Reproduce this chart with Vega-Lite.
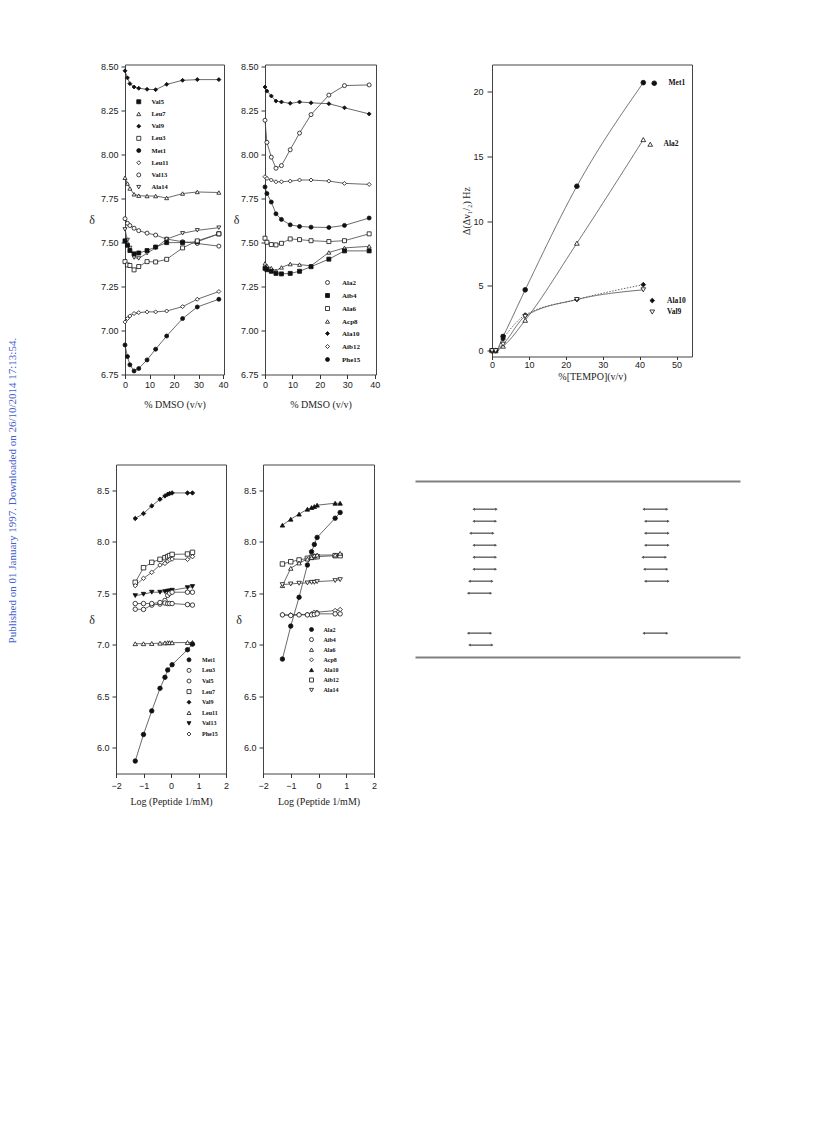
{
"$schema": "https://vega.github.io/schema/vega-lite/v6.json",
"background": "white",
"padding": {"left": 6, "top": 61.5, "right": 5, "bottom": 5},
"title": {"text": "Published on 01 January 1997. Downloaded on 26/10/2014 17:13:54.", "orient": "left", "anchor": "middle", "font": "Liberation Serif", "fontSize": 11, "fontWeight": "normal", "color": "#4060cc", "offset": 62.5, "dx": -56},
"spacing": 53,
"resolve": {"scale": {"shape": "independent", "fill": "independent", "stroke": "independent", "strokeDash": "independent"}},
"vconcat": [
{"hconcat": [
 {"hconcat": [
  {"width": 3.5, "height": 1, "view": {"stroke": "transparent"}, "data": {"values": []}, "mark": "point"},
  {"width": 99, "height": 310,
   "data": {"values": [
{"s":"Val9","x":0,"y":8.477},{"s":"Val9","x":1,"y":8.437},{"s":"Val9","x":2,"y":8.404},{"s":"Val9","x":3.7,"y":8.385},{"s":"Val9","x":5.6,"y":8.378},{"s":"Val9","x":9,"y":8.372},{"s":"Val9","x":12.5,"y":8.37},{"s":"Val9","x":17,"y":8.40},{"s":"Val9","x":23.5,"y":8.423},{"s":"Val9","x":29.5,"y":8.427},{"s":"Val9","x":38.3,"y":8.427},
{"s":"Leu7","x":0,"y":7.869},{"s":"Leu7","x":1,"y":7.836},{"s":"Leu7","x":2,"y":7.808},{"s":"Leu7","x":3.7,"y":7.775},{"s":"Leu7","x":5.6,"y":7.767},{"s":"Leu7","x":9,"y":7.765},{"s":"Leu7","x":12.5,"y":7.765},{"s":"Leu7","x":17,"y":7.754},{"s":"Leu7","x":23.5,"y":7.779},{"s":"Leu7","x":29.5,"y":7.788},{"s":"Leu7","x":38.3,"y":7.785},
{"s":"Val13","x":0,"y":7.636},{"s":"Val13","x":1,"y":7.61},{"s":"Val13","x":2,"y":7.597},{"s":"Val13","x":3.7,"y":7.582},{"s":"Val13","x":5.6,"y":7.568},{"s":"Val13","x":9,"y":7.554},{"s":"Val13","x":12.5,"y":7.543},{"s":"Val13","x":17,"y":7.52},{"s":"Val13","x":23.5,"y":7.505},{"s":"Val13","x":29.5,"y":7.495},{"s":"Val13","x":38.3,"y":7.48},
{"s":"Ala14","x":0,"y":7.575},{"s":"Ala14","x":1,"y":7.515},{"s":"Ala14","x":2,"y":7.47},{"s":"Ala14","x":3.7,"y":7.415},{"s":"Ala14","x":5.6,"y":7.41},{"s":"Ala14","x":9,"y":7.44},{"s":"Ala14","x":12.5,"y":7.47},{"s":"Ala14","x":17,"y":7.52},{"s":"Ala14","x":23.5,"y":7.553},{"s":"Ala14","x":29.5,"y":7.57},{"s":"Ala14","x":38.3,"y":7.585},
{"s":"Val5","x":0,"y":7.51},{"s":"Val5","x":1,"y":7.485},{"s":"Val5","x":2,"y":7.455},{"s":"Val5","x":3.7,"y":7.436},{"s":"Val5","x":5.6,"y":7.441},{"s":"Val5","x":9,"y":7.455},{"s":"Val5","x":12.5,"y":7.475},{"s":"Val5","x":17,"y":7.50},{"s":"Val5","x":23.5,"y":7.50},{"s":"Val5","x":29.5,"y":7.505},{"s":"Val5","x":38.3,"y":7.55},
{"s":"Leu3","x":0,"y":7.392},{"s":"Leu3","x":1,"y":7.373},{"s":"Leu3","x":2,"y":7.37},{"s":"Leu3","x":3.7,"y":7.345},{"s":"Leu3","x":5.6,"y":7.364},{"s":"Leu3","x":9,"y":7.392},{"s":"Leu3","x":12.5,"y":7.39},{"s":"Leu3","x":17,"y":7.405},{"s":"Leu3","x":23.5,"y":7.47},{"s":"Leu3","x":29.5,"y":7.51},{"s":"Leu3","x":38.3,"y":7.55},
{"s":"Leu11","x":0,"y":7.049},{"s":"Leu11","x":1,"y":7.068},{"s":"Leu11","x":2,"y":7.083},{"s":"Leu11","x":3.7,"y":7.097},{"s":"Leu11","x":5.6,"y":7.102},{"s":"Leu11","x":9,"y":7.106},{"s":"Leu11","x":12.5,"y":7.106},{"s":"Leu11","x":17,"y":7.111},{"s":"Leu11","x":23.5,"y":7.136},{"s":"Leu11","x":29.5,"y":7.178},{"s":"Leu11","x":38.3,"y":7.222},
{"s":"Met1","x":0,"y":6.918},{"s":"Met1","x":1,"y":6.852},{"s":"Met1","x":2,"y":6.805},{"s":"Met1","x":3.7,"y":6.77},{"s":"Met1","x":5.6,"y":6.784},{"s":"Met1","x":9,"y":6.833},{"s":"Met1","x":12.5,"y":6.894},{"s":"Met1","x":17,"y":6.969},{"s":"Met1","x":23.5,"y":7.068},{"s":"Met1","x":29.5,"y":7.134},{"s":"Met1","x":38.3,"y":7.178}
   ]},
   "encoding": {
    "x": {"field": "x", "type": "quantitative", "scale": {"domain": [0, 40.4], "nice": false, "zero": false}, "axis": {"values": [0,10,20,30,40], "title": "% DMSO (v/v)", "labelPadding": 2, "titlePadding": 10}},
    "y": {"field": "y", "type": "quantitative", "scale": {"domain": [6.75, 8.513], "nice": false, "zero": false}, "axis": {"values": [6.75,7,7.25,7.5,7.75,8,8.25,8.5], "format": ".2f", "title": "δ", "titleAngle": 0, "titleAlign": "right", "titleBaseline": "middle", "titleFontSize": 12, "titlePadding": 6}}
   },
   "layer": [
    {"mark": {"type": "line", "stroke": "#444", "strokeWidth": 0.8}, "encoding": {"detail": {"field": "s", "type": "nominal"}}},
    {"mark": {"type": "point", "strokeWidth": 0.8, "opacity": 1, "size": 16},
     "encoding": {
      "shape": {"field": "s", "type": "nominal", "scale": {"domain": ["Val5","Leu7","Val9","Leu3","Met1","Leu11","Val13","Ala14"], "range": ["square","triangle-up","diamond","square","circle","diamond","circle","triangle-down"]}, "legend": {"orient": "none", "legendX": 10.5, "legendY": 34, "title": null, "labelFontSize": 6.5, "symbolSize": 16, "rowPadding": 4.2, "labelOffset": 9.5}},
      "fill": {"field": "s", "type": "nominal", "scale": {"domain": ["Val5","Leu7","Val9","Leu3","Met1","Leu11","Val13","Ala14"], "range": ["#111","white","#111","white","#111","white","white","white"]}, "legend": {"orient": "none", "legendX": 10.5, "legendY": 34, "title": null, "labelFontSize": 6.5, "symbolSize": 16, "rowPadding": 4.2, "labelOffset": 9.5}},
      "stroke": {"field": "s", "type": "nominal", "scale": {"domain": ["Val5","Leu7","Val9","Leu3","Met1","Leu11","Val13","Ala14"], "range": ["#111","#111","#111","#111","#111","#111","#111","#111"]}, "legend": {"orient": "none", "legendX": 10.5, "legendY": 34, "title": null, "labelFontSize": 6.5, "symbolSize": 16, "rowPadding": 4.2, "labelOffset": 9.5}}
     }}
   ]
  },
  {"width": 111, "height": 310,
   "data": {"values": [
{"s":"Ala10","x":0,"y":8.385},{"s":"Ala10","x":0.7,"y":8.362},{"s":"Ala10","x":2.3,"y":8.334},{"s":"Ala10","x":4,"y":8.305},{"s":"Ala10","x":6,"y":8.30},{"s":"Ala10","x":9.2,"y":8.292},{"s":"Ala10","x":12.6,"y":8.30},{"s":"Ala10","x":16.8,"y":8.295},{"s":"Ala10","x":23.3,"y":8.29},{"s":"Ala10","x":29,"y":8.267},{"s":"Ala10","x":38,"y":8.232},
{"s":"Ala2","x":0,"y":8.196},{"s":"Ala2","x":0.7,"y":8.07},{"s":"Ala2","x":2.3,"y":7.986},{"s":"Ala2","x":4,"y":7.923},{"s":"Ala2","x":6,"y":7.938},{"s":"Ala2","x":9.2,"y":8.028},{"s":"Ala2","x":12.6,"y":8.123},{"s":"Ala2","x":16.8,"y":8.228},{"s":"Ala2","x":23.3,"y":8.339},{"s":"Ala2","x":29,"y":8.393},{"s":"Ala2","x":38,"y":8.397},
{"s":"Aib12","x":0,"y":7.875},{"s":"Aib12","x":0.7,"y":7.865},{"s":"Aib12","x":2.3,"y":7.856},{"s":"Aib12","x":4,"y":7.846},{"s":"Aib12","x":6,"y":7.846},{"s":"Aib12","x":9.2,"y":7.85},{"s":"Aib12","x":12.6,"y":7.856},{"s":"Aib12","x":16.8,"y":7.856},{"s":"Aib12","x":23.3,"y":7.85},{"s":"Aib12","x":29,"y":7.837},{"s":"Aib12","x":38,"y":7.831},
{"s":"Phe15","x":0,"y":7.817},{"s":"Phe15","x":0.7,"y":7.779},{"s":"Phe15","x":2.3,"y":7.731},{"s":"Phe15","x":4,"y":7.664},{"s":"Phe15","x":6,"y":7.632},{"s":"Phe15","x":9.2,"y":7.601},{"s":"Phe15","x":12.6,"y":7.592},{"s":"Phe15","x":16.8,"y":7.588},{"s":"Phe15","x":23.3,"y":7.586},{"s":"Phe15","x":29,"y":7.598},{"s":"Phe15","x":38,"y":7.64},
{"s":"Ala6","x":0,"y":7.525},{"s":"Ala6","x":0.7,"y":7.502},{"s":"Ala6","x":2.3,"y":7.489},{"s":"Ala6","x":4,"y":7.487},{"s":"Ala6","x":6,"y":7.496},{"s":"Ala6","x":9.2,"y":7.521},{"s":"Ala6","x":12.6,"y":7.517},{"s":"Ala6","x":16.8,"y":7.511},{"s":"Ala6","x":23.3,"y":7.506},{"s":"Ala6","x":29,"y":7.511},{"s":"Ala6","x":38,"y":7.55},
{"s":"Acp8","x":0,"y":7.382},{"s":"Acp8","x":0.7,"y":7.368},{"s":"Acp8","x":2.3,"y":7.355},{"s":"Acp8","x":4,"y":7.34},{"s":"Acp8","x":6,"y":7.359},{"s":"Acp8","x":9.2,"y":7.378},{"s":"Acp8","x":12.6,"y":7.375},{"s":"Acp8","x":16.8,"y":7.368},{"s":"Acp8","x":23.3,"y":7.444},{"s":"Acp8","x":29,"y":7.47},{"s":"Acp8","x":38,"y":7.479},
{"s":"Aib4","x":0,"y":7.354},{"s":"Aib4","x":0.7,"y":7.346},{"s":"Aib4","x":2.3,"y":7.337},{"s":"Aib4","x":4,"y":7.325},{"s":"Aib4","x":6,"y":7.322},{"s":"Aib4","x":9.2,"y":7.325},{"s":"Aib4","x":12.6,"y":7.337},{"s":"Aib4","x":16.8,"y":7.363},{"s":"Aib4","x":23.3,"y":7.406},{"s":"Aib4","x":29,"y":7.453},{"s":"Aib4","x":38,"y":7.453}
   ]},
   "encoding": {
    "x": {"field": "x", "type": "quantitative", "scale": {"domain": [0, 40.5], "nice": false, "zero": false}, "axis": {"values": [0,10,20,30,40], "title": "% DMSO (v/v)", "labelPadding": 2, "titlePadding": 10}},
    "y": {"field": "y", "type": "quantitative", "scale": {"domain": [6.75, 8.513], "nice": false, "zero": false}, "axis": {"values": [6.75,7,7.25,7.5,7.75,8,8.25,8.5], "format": ".2f", "title": "δ", "titleAngle": 0, "titleAlign": "right", "titleBaseline": "middle", "titleFontSize": 12, "titlePadding": 1.5}}
   },
   "layer": [
    {"mark": {"type": "line", "stroke": "#444", "strokeWidth": 0.8}, "encoding": {"detail": {"field": "s", "type": "nominal"}}},
    {"mark": {"type": "point", "strokeWidth": 0.8, "opacity": 1, "size": 16},
     "encoding": {
      "shape": {"field": "s", "type": "nominal", "scale": {"domain": ["Ala2","Aib4","Ala6","Acp8","Ala10","Aib12","Phe15"], "range": ["circle","square","square","triangle-up","diamond","diamond","circle"]}, "legend": {"orient": "none", "legendX": 59, "legendY": 214.5, "title": null, "labelFontSize": 7, "symbolSize": 16, "rowPadding": 4, "labelOffset": 11}},
      "fill": {"field": "s", "type": "nominal", "scale": {"domain": ["Ala2","Aib4","Ala6","Acp8","Ala10","Aib12","Phe15"], "range": ["white","#111","white","white","#111","white","#111"]}, "legend": {"orient": "none", "legendX": 59, "legendY": 214.5, "title": null, "labelFontSize": 7, "symbolSize": 16, "rowPadding": 4, "labelOffset": 11}},
      "stroke": {"field": "s", "type": "nominal", "scale": {"domain": ["Ala2","Aib4","Ala6","Acp8","Ala10","Aib12","Phe15"], "range": ["#111","#111","#111","#111","#111","#111","#111"]}, "legend": {"orient": "none", "legendX": 59, "legendY": 214.5, "title": null, "labelFontSize": 7, "symbolSize": 16, "rowPadding": 4, "labelOffset": 11}}
     }}
   ]
  }
 ], "spacing": 3, "resolve": {"scale": {"shape": "independent", "fill": "independent", "stroke": "independent", "strokeDash": "independent"}}},
 {"width": 200, "height": 292,
  "data": {"values": [
{"s":"Met1","x":0,"y":0},{"s":"Met1","x":1,"y":0},{"s":"Met1","x":3,"y":1.1},{"s":"Met1","x":9,"y":4.7},{"s":"Met1","x":23,"y":12.7},{"s":"Met1","x":41,"y":20.7},
{"s":"Ala2","x":0,"y":0},{"s":"Ala2","x":1,"y":0},{"s":"Ala2","x":3,"y":0.35},{"s":"Ala2","x":9,"y":2.35},{"s":"Ala2","x":23,"y":8.3},{"s":"Ala2","x":41,"y":16.3},
{"s":"Ala10","x":0,"y":0},{"s":"Ala10","x":1,"y":0},{"s":"Ala10","x":3,"y":0.9},{"s":"Ala10","x":9,"y":2.75},{"s":"Ala10","x":23,"y":3.95},{"s":"Ala10","x":41,"y":5.1},
{"s":"Val9","x":0,"y":0},{"s":"Val9","x":1,"y":0},{"s":"Val9","x":3,"y":0.5},{"s":"Val9","x":9,"y":2.65},{"s":"Val9","x":23,"y":3.95},{"s":"Val9","x":41,"y":4.7}
  ]},
  "encoding": {
   "x": {"field": "x", "type": "quantitative", "scale": {"domain": [0, 54.2], "nice": false, "zero": false}, "axis": {"values": [0,10,20,30,40,50], "title": "%[TEMPO](v/v)", "tickSize": 3, "labelPadding": 1, "titlePadding": 2}},
   "y": {"field": "y", "type": "quantitative", "scale": {"domain": [-0.45, 22.1], "nice": false, "zero": false}, "axis": {"values": [0,5,10,15,20], "title": "Δ(Δν₁/₂) Hz", "tickSize": 5, "labelPadding": 4, "titlePadding": 1}}
  },
  "resolve": {"scale": {"shape": "independent", "fill": "independent", "stroke": "independent"}},
  "layer": [
   {"mark": {"type": "line", "interpolate": "monotone", "stroke": "#555", "strokeWidth": 0.9}, "encoding": {"detail": {"field": "s", "type": "nominal"}, "strokeDash": {"field": "s", "type": "nominal", "scale": {"domain": ["Met1","Ala2","Ala10","Val9"], "range": [[1,0],[1,0],[1.5,1.5],[1,0]]}, "legend": null}}},
   {"transform": [{"filter": {"field": "s", "equal": "Met1"}}],
    "mark": {"type": "point", "strokeWidth": 0.8, "opacity": 1, "size": 22},
    "encoding": {
     "shape": {"field": "s", "type": "nominal", "scale": {"domain": ["Met1"], "range": ["circle"]}, "legend": {"orient": "none", "legendX": 158.5, "legendY": 15, "title": null, "labelFontSize": 7.5, "symbolSize": 22, "labelOffset": 10.5}},
     "fill": {"field": "s", "type": "nominal", "scale": {"domain": ["Met1"], "range": ["#111"]}, "legend": {"orient": "none", "legendX": 158.5, "legendY": 15, "title": null, "labelFontSize": 7.5, "symbolSize": 22, "labelOffset": 10.5}},
     "stroke": {"field": "s", "type": "nominal", "scale": {"domain": ["Met1"], "range": ["#111"]}, "legend": {"orient": "none", "legendX": 158.5, "legendY": 15, "title": null, "labelFontSize": 7.5, "symbolSize": 22, "labelOffset": 10.5}}
    }},
   {"transform": [{"filter": {"field": "s", "equal": "Ala2"}}],
    "mark": {"type": "point", "strokeWidth": 0.8, "opacity": 1, "size": 22},
    "encoding": {
     "shape": {"field": "s", "type": "nominal", "scale": {"domain": ["Ala2"], "range": ["triangle-up"]}, "legend": {"orient": "none", "legendX": 154.5, "legendY": 76, "title": null, "labelFontSize": 7.5, "symbolSize": 22, "labelOffset": 9.5}},
     "fill": {"field": "s", "type": "nominal", "scale": {"domain": ["Ala2"], "range": ["white"]}, "legend": {"orient": "none", "legendX": 154.5, "legendY": 76, "title": null, "labelFontSize": 7.5, "symbolSize": 22, "labelOffset": 9.5}},
     "stroke": {"field": "s", "type": "nominal", "scale": {"domain": ["Ala2"], "range": ["#111"]}, "legend": {"orient": "none", "legendX": 154.5, "legendY": 76, "title": null, "labelFontSize": 7.5, "symbolSize": 22, "labelOffset": 9.5}}
    }},
   {"transform": [{"filter": {"field": "s", "oneOf": ["Ala10", "Val9"]}}],
    "mark": {"type": "point", "strokeWidth": 0.8, "opacity": 1, "size": 22},
    "encoding": {
     "shape": {"field": "s", "type": "nominal", "scale": {"domain": ["Ala10","Val9"], "range": ["diamond","triangle-down"]}, "legend": {"orient": "none", "legendX": 156.5, "legendY": 232.3, "title": null, "labelFontSize": 7.5, "symbolSize": 22, "rowPadding": 2.5, "labelOffset": 11}},
     "fill": {"field": "s", "type": "nominal", "scale": {"domain": ["Ala10","Val9"], "range": ["#111","white"]}, "legend": {"orient": "none", "legendX": 156.5, "legendY": 232.3, "title": null, "labelFontSize": 7.5, "symbolSize": 22, "rowPadding": 2.5, "labelOffset": 11}},
     "stroke": {"field": "s", "type": "nominal", "scale": {"domain": ["Ala10","Val9"], "range": ["#111","#111"]}, "legend": {"orient": "none", "legendX": 156.5, "legendY": 232.3, "title": null, "labelFontSize": 7.5, "symbolSize": 22, "rowPadding": 2.5, "labelOffset": 11}}
    }}
  ]
 }
], "spacing": 80, "resolve": {"scale": {"shape": "independent", "fill": "independent", "stroke": "independent", "strokeDash": "independent"}}},
{"hconcat": [
 {"hconcat": [
  {"width": 1, "height": 1, "view": {"stroke": "transparent"}, "data": {"values": []}, "mark": "point"},
  {"width": 110, "height": 309,
   "data": {"values": [
{"s":"Val9","x":-1.3,"y":8.226},{"s":"Val9","x":-1.0,"y":8.274},{"s":"Val9","x":-0.7,"y":8.348},{"s":"Val9","x":-0.4,"y":8.413},{"s":"Val9","x":-0.22,"y":8.445},{"s":"Val9","x":-0.12,"y":8.461},{"s":"Val9","x":-0.05,"y":8.468},{"s":"Val9","x":0.04,"y":8.474},{"s":"Val9","x":0.6,"y":8.474},{"s":"Val9","x":0.78,"y":8.474},
{"s":"Leu7","x":-1.3,"y":7.606},{"s":"Leu7","x":-1.0,"y":7.748},{"s":"Leu7","x":-0.7,"y":7.80},{"s":"Leu7","x":-0.4,"y":7.829},{"s":"Leu7","x":-0.22,"y":7.845},{"s":"Leu7","x":-0.12,"y":7.855},{"s":"Leu7","x":-0.05,"y":7.865},{"s":"Leu7","x":0.04,"y":7.877},{"s":"Leu7","x":0.6,"y":7.881},{"s":"Leu7","x":0.78,"y":7.897},
{"s":"Phe15","x":-1.3,"y":7.574},{"s":"Phe15","x":-1.0,"y":7.645},{"s":"Phe15","x":-0.7,"y":7.703},{"s":"Phe15","x":-0.4,"y":7.774},{"s":"Phe15","x":-0.22,"y":7.79},{"s":"Phe15","x":-0.12,"y":7.813},{"s":"Phe15","x":-0.05,"y":7.825},{"s":"Phe15","x":0.04,"y":7.832},{"s":"Phe15","x":0.6,"y":7.829},{"s":"Phe15","x":0.78,"y":7.855},
{"s":"Val13","x":-1.3,"y":7.477},{"s":"Val13","x":-1.0,"y":7.49},{"s":"Val13","x":-0.7,"y":7.51},{"s":"Val13","x":-0.4,"y":7.51},{"s":"Val13","x":-0.22,"y":7.516},{"s":"Val13","x":-0.12,"y":7.52},{"s":"Val13","x":-0.05,"y":7.523},{"s":"Val13","x":0.04,"y":7.529},{"s":"Val13","x":0.6,"y":7.555},{"s":"Val13","x":0.78,"y":7.565},
{"s":"Val5","x":-1.3,"y":7.345},{"s":"Val5","x":-1.0,"y":7.343},{"s":"Val5","x":-0.7,"y":7.385},{"s":"Val5","x":-0.4,"y":7.395},{"s":"Val5","x":-0.22,"y":7.43},{"s":"Val5","x":-0.12,"y":7.48},{"s":"Val5","x":-0.05,"y":7.50},{"s":"Val5","x":0.04,"y":7.51},{"s":"Val5","x":0.6,"y":7.51},{"s":"Val5","x":0.78,"y":7.51},
{"s":"Leu3","x":-1.3,"y":7.40},{"s":"Leu3","x":-1.0,"y":7.40},{"s":"Leu3","x":-0.7,"y":7.40},{"s":"Leu3","x":-0.4,"y":7.41},{"s":"Leu3","x":-0.22,"y":7.405},{"s":"Leu3","x":-0.12,"y":7.40},{"s":"Leu3","x":-0.05,"y":7.40},{"s":"Leu3","x":0.04,"y":7.40},{"s":"Leu3","x":0.6,"y":7.39},{"s":"Leu3","x":0.78,"y":7.385},
{"s":"Leu11","x":-1.3,"y":7.01},{"s":"Leu11","x":-1.0,"y":7.01},{"s":"Leu11","x":-0.7,"y":7.012},{"s":"Leu11","x":-0.4,"y":7.015},{"s":"Leu11","x":-0.22,"y":7.018},{"s":"Leu11","x":-0.12,"y":7.02},{"s":"Leu11","x":-0.05,"y":7.02},{"s":"Leu11","x":0.04,"y":7.02},{"s":"Leu11","x":0.6,"y":7.022},{"s":"Leu11","x":0.78,"y":7.022},
{"s":"Met1","x":-1.3,"y":5.871},{"s":"Met1","x":-1.0,"y":6.129},{"s":"Met1","x":-0.7,"y":6.358},{"s":"Met1","x":-0.4,"y":6.577},{"s":"Met1","x":-0.22,"y":6.684},{"s":"Met1","x":-0.12,"y":6.755},{"s":"Met1","x":0.04,"y":6.806},{"s":"Met1","x":0.6,"y":6.952},{"s":"Met1","x":0.78,"y":7.006}
   ]},
   "encoding": {
    "x": {"field": "x", "type": "quantitative", "scale": {"domain": [-2, 2], "nice": false, "zero": false}, "axis": {"values": [-2,-1,0,1,2], "title": "Log (Peptide 1/mM)", "labelPadding": 4, "titlePadding": 6}},
    "y": {"field": "y", "type": "quantitative", "scale": {"domain": [5.75, 8.75], "nice": false, "zero": false}, "axis": {"values": [6,6.5,7,7.5,8,8.5], "format": ".1f", "title": "δ", "titleAngle": 0, "titleAlign": "right", "titleBaseline": "middle", "titleFontSize": 12, "titlePadding": 2}}
   },
   "layer": [
    {"mark": {"type": "line", "stroke": "#444", "strokeWidth": 0.8}, "encoding": {"detail": {"field": "s", "type": "nominal"}}},
    {"mark": {"type": "point", "strokeWidth": 0.8, "opacity": 1, "size": 20},
     "encoding": {
      "shape": {"field": "s", "type": "nominal", "scale": {"domain": ["Met1","Leu3","Val5","Leu7","Val9","Leu11","Val13","Phe15"], "range": ["circle","circle","circle","square","diamond","triangle-up","triangle-down","diamond"]}, "legend": {"orient": "none", "legendX": 70, "legendY": 192.3, "title": null, "labelFontSize": 6, "symbolSize": 16, "rowPadding": 2.6, "labelOffset": 10}},
      "fill": {"field": "s", "type": "nominal", "scale": {"domain": ["Met1","Leu3","Val5","Leu7","Val9","Leu11","Val13","Phe15"], "range": ["#111","white","white","white","#111","white","#111","white"]}, "legend": {"orient": "none", "legendX": 70, "legendY": 192.3, "title": null, "labelFontSize": 6, "symbolSize": 16, "rowPadding": 2.6, "labelOffset": 10}},
      "stroke": {"field": "s", "type": "nominal", "scale": {"domain": ["Met1","Leu3","Val5","Leu7","Val9","Leu11","Val13","Phe15"], "range": ["#111","#111","#111","#111","#111","#111","#111","#111"]}, "legend": {"orient": "none", "legendX": 70, "legendY": 192.3, "title": null, "labelFontSize": 6, "symbolSize": 16, "rowPadding": 2.6, "labelOffset": 10}}
     }}
   ]
  },
  {"width": 111, "height": 309,
   "data": {"values": [
{"s":"Ala10","x":-1.3,"y":8.161},{"s":"Ala10","x":-1.0,"y":8.219},{"s":"Ala10","x":-0.7,"y":8.268},{"s":"Ala10","x":-0.4,"y":8.316},{"s":"Ala10","x":-0.25,"y":8.332},{"s":"Ala10","x":-0.15,"y":8.342},{"s":"Ala10","x":-0.05,"y":8.355},{"s":"Ala10","x":0.6,"y":8.374},{"s":"Ala10","x":0.78,"y":8.374},
{"s":"Ala2","x":-1.3,"y":6.861},{"s":"Ala2","x":-1.0,"y":7.181},{"s":"Ala2","x":-0.7,"y":7.461},{"s":"Ala2","x":-0.4,"y":7.774},{"s":"Ala2","x":-0.25,"y":7.903},{"s":"Ala2","x":-0.15,"y":7.974},{"s":"Ala2","x":-0.05,"y":8.042},{"s":"Ala2","x":0.6,"y":8.229},{"s":"Ala2","x":0.78,"y":8.284},
{"s":"Aib12","x":-1.3,"y":7.784},{"s":"Aib12","x":-1.0,"y":7.806},{"s":"Aib12","x":-0.7,"y":7.823},{"s":"Aib12","x":-0.4,"y":7.839},{"s":"Aib12","x":-0.25,"y":7.848},{"s":"Aib12","x":-0.15,"y":7.855},{"s":"Aib12","x":-0.05,"y":7.855},{"s":"Aib12","x":0.6,"y":7.865},{"s":"Aib12","x":0.78,"y":7.865},
{"s":"Ala6","x":-1.3,"y":7.574},{"s":"Ala6","x":-1.0,"y":7.742},{"s":"Ala6","x":-0.7,"y":7.794},{"s":"Ala6","x":-0.4,"y":7.832},{"s":"Ala6","x":-0.25,"y":7.848},{"s":"Ala6","x":-0.15,"y":7.865},{"s":"Ala6","x":-0.05,"y":7.871},{"s":"Ala6","x":0.6,"y":7.871},{"s":"Ala6","x":0.78,"y":7.887},
{"s":"Ala14","x":-1.3,"y":7.584},{"s":"Ala14","x":-1.0,"y":7.59},{"s":"Ala14","x":-0.7,"y":7.597},{"s":"Ala14","x":-0.4,"y":7.60},{"s":"Ala14","x":-0.25,"y":7.606},{"s":"Ala14","x":-0.15,"y":7.606},{"s":"Ala14","x":-0.05,"y":7.613},{"s":"Ala14","x":0.6,"y":7.623},{"s":"Ala14","x":0.78,"y":7.632},
{"s":"Acp8","x":-1.3,"y":7.29},{"s":"Acp8","x":-1.0,"y":7.29},{"s":"Acp8","x":-0.7,"y":7.294},{"s":"Acp8","x":-0.4,"y":7.294},{"s":"Acp8","x":-0.25,"y":7.30},{"s":"Acp8","x":-0.15,"y":7.316},{"s":"Acp8","x":-0.05,"y":7.316},{"s":"Acp8","x":0.6,"y":7.332},{"s":"Acp8","x":0.78,"y":7.342},
{"s":"Aib4","x":-1.3,"y":7.29},{"s":"Aib4","x":-1.0,"y":7.284},{"s":"Aib4","x":-0.7,"y":7.29},{"s":"Aib4","x":-0.4,"y":7.29},{"s":"Aib4","x":-0.25,"y":7.29},{"s":"Aib4","x":-0.15,"y":7.294},{"s":"Aib4","x":-0.05,"y":7.30},{"s":"Aib4","x":0.6,"y":7.30},{"s":"Aib4","x":0.78,"y":7.30}
   ]},
   "encoding": {
    "x": {"field": "x", "type": "quantitative", "scale": {"domain": [-2, 2], "nice": false, "zero": false}, "axis": {"values": [-2,-1,0,1,2], "title": "Log (Peptide 1/mM)", "labelPadding": 4, "titlePadding": 6}},
    "y": {"field": "y", "type": "quantitative", "scale": {"domain": [5.75, 8.75], "nice": false, "zero": false}, "axis": {"values": [6,6.5,7,7.5,8,8.5], "format": ".1f", "title": "δ", "titleAngle": 0, "titleAlign": "right", "titleBaseline": "middle", "titleFontSize": 12, "titlePadding": 2}}
   },
   "layer": [
    {"mark": {"type": "line", "stroke": "#444", "strokeWidth": 0.8}, "encoding": {"detail": {"field": "s", "type": "nominal"}}},
    {"mark": {"type": "point", "strokeWidth": 0.8, "opacity": 1, "size": 20},
     "encoding": {
      "shape": {"field": "s", "type": "nominal", "scale": {"domain": ["Ala2","Aib4","Ala6","Acp8","Ala10","Aib12","Ala14"], "range": ["circle","circle","triangle-up","diamond","triangle-up","square","triangle-down"]}, "legend": {"orient": "none", "legendX": 45.5, "legendY": 162, "title": null, "labelFontSize": 6, "symbolSize": 16, "rowPadding": 2.1, "labelOffset": 9}},
      "fill": {"field": "s", "type": "nominal", "scale": {"domain": ["Ala2","Aib4","Ala6","Acp8","Ala10","Aib12","Ala14"], "range": ["#111","white","white","white","#111","white","white"]}, "legend": {"orient": "none", "legendX": 45.5, "legendY": 162, "title": null, "labelFontSize": 6, "symbolSize": 16, "rowPadding": 2.1, "labelOffset": 9}},
      "stroke": {"field": "s", "type": "nominal", "scale": {"domain": ["Ala2","Aib4","Ala6","Acp8","Ala10","Aib12","Ala14"], "range": ["#111","#111","#111","#111","#111","#111","#111"]}, "legend": {"orient": "none", "legendX": 45.5, "legendY": 162, "title": null, "labelFontSize": 6, "symbolSize": 16, "rowPadding": 2.1, "labelOffset": 9}}
     }}
   ]
  }
 ], "spacing": 5, "resolve": {"scale": {"shape": "independent", "fill": "independent", "stroke": "independent", "strokeDash": "independent"}}},
 {"width": 325, "height": 309,
  "view": {"stroke": null},
  "layer": [
   {"data": {"values": [{"r": -1.31}, {"r": 13.36}]},
    "mark": {"type": "rule", "stroke": "#808080", "strokeWidth": 2.2},
    "encoding": {"y": {"field": "r", "type": "quantitative", "scale": {"domain": [-2.725, 23.03], "reverse": true, "nice": false, "zero": false}, "axis": null}}},
   {"data": {"name": "arrows", "values": [
{"col":"L","r":1,"a":17.9,"b":24.9},{"col":"L","r":2,"a":17.9,"b":24.7},{"col":"L","r":3,"a":16.9,"b":23.9},{"col":"L","r":4,"a":17.9,"b":24.7},{"col":"L","r":5,"a":17.9,"b":24.7},{"col":"L","r":6,"a":17.9,"b":24.7},{"col":"L","r":7,"a":16.6,"b":23.6},{"col":"L","r":8,"a":16.2,"b":23.2},{"col":"L","r":11.33,"a":16.2,"b":23.2},{"col":"L","r":12.33,"a":16.6,"b":23.6},
{"col":"R","r":1,"a":70.2,"b":77.4},{"col":"R","r":2,"a":70.7,"b":77.8},{"col":"R","r":3,"a":70.7,"b":77.8},{"col":"R","r":4,"a":70.7,"b":77.8},{"col":"R","r":5,"a":69.9,"b":77.0},{"col":"R","r":6,"a":70.4,"b":77.4},{"col":"R","r":7,"a":70.7,"b":77.8},{"col":"R","r":11.33,"a":70.2,"b":77.4}
    ]},
    "layer": [
     {"mark": {"type": "rule", "stroke": "#555", "strokeWidth": 1.3},
      "encoding": {"x": {"field": "a", "type": "quantitative", "scale": {"domain": [0, 100], "nice": false, "zero": false}, "axis": null}, "x2": {"field": "b"}, "y": {"field": "r", "type": "quantitative", "scale": {"domain": [-2.725, 23.03], "reverse": true, "nice": false, "zero": false}, "axis": null}}},
     {"mark": {"type": "point", "shape": "triangle-left", "filled": true, "color": "#555", "opacity": 1, "size": 9},
      "encoding": {"x": {"field": "a", "type": "quantitative", "scale": {"domain": [0, 100], "nice": false, "zero": false}, "axis": null}, "y": {"field": "r", "type": "quantitative", "scale": {"domain": [-2.725, 23.03], "reverse": true, "nice": false, "zero": false}, "axis": null}}},
     {"mark": {"type": "point", "shape": "triangle-right", "filled": true, "color": "#555", "opacity": 1, "size": 9},
      "encoding": {"x": {"field": "b", "type": "quantitative", "scale": {"domain": [0, 100], "nice": false, "zero": false}, "axis": null}, "y": {"field": "r", "type": "quantitative", "scale": {"domain": [-2.725, 23.03], "reverse": true, "nice": false, "zero": false}, "axis": null}}}
    ]}
  ]
 }
], "spacing": 35.5, "resolve": {"scale": {"shape": "independent", "fill": "independent", "stroke": "independent", "strokeDash": "independent"}}}
],
"config": {
 "font": "Liberation Sans",
 "view": {"stroke": "#444", "strokeWidth": 1},
 "axis": {"grid": false, "domain": false, "labelFlush": false, "tickColor": "#333", "tickSize": 4, "tickWidth": 1, "labelFont": "Liberation Sans", "labelFontSize": 9, "labelColor": "#222", "labelPadding": 3, "titleFont": "Liberation Serif", "titleFontSize": 10, "titleFontWeight": "normal", "titleColor": "#222"},
 "legend": {"labelFont": "Liberation Serif", "labelFontWeight": "bold", "labelColor": "#111", "symbolStrokeWidth": 0.8, "padding": 0, "titlePadding": 0}
}
}
